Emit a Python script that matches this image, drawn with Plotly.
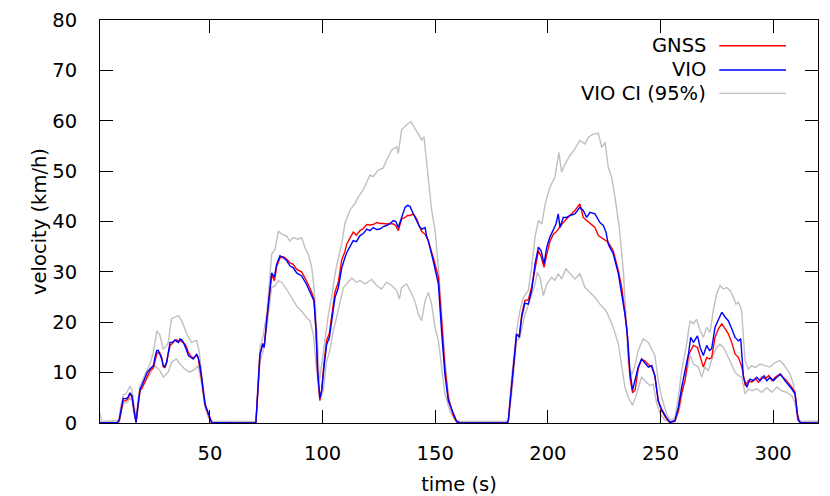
import plotly.graph_objects as go

# time (s) / velocity (km/h)

t_vio = [1.2, 5.0, 9.0, 9.8, 10.8, 11.5, 12.7, 13.6, 14.5, 15.4,
         16.3, 17.2, 18.1, 19.0, 19.7, 21.2, 22.2, 23.4, 24.9, 25.6,
         26.4, 27.1, 27.8, 28.6, 29.3, 30.0, 30.8, 31.5, 32.3, 33.3,
         34.5, 35.2, 36.0, 36.7, 37.5, 38.2, 38.9, 39.7, 40.4, 41.5,
         42.6, 43.4, 44.1, 44.8, 45.6, 46.3, 47.0, 47.8, 48.6, 49.3,
         50.0, 50.8, 60.0, 70.4,
         71.5, 72.2, 73.4, 74.1, 75.2, 76.7, 77.4, 78.6, 79.6, 81.1,
         82.6, 84.1, 85.5, 87.0, 88.5, 90.7, 92.9, 95.2, 96.2, 97.1,
         97.8, 98.8, 99.6, 100.6, 101.8, 103.0, 104.0, 105.5, 107.0, 108.5,
         109.9, 110.7, 111.9, 113.6, 115.0, 116.6, 118.1, 119.6, 121.0, 122.5,
         124.0, 125.5, 127.0, 128.4, 130.0, 131.4, 132.5, 133.6, 135.1, 136.6,
         137.7, 138.8, 140.3, 141.8, 143.0, 144.0, 145.5, 146.2, 146.9, 149.1,
         151.4, 152.9, 154.3, 155.8, 158.0, 159.5, 161.0, 170.0, 181.5,
         182.4, 183.5, 184.6, 186.1, 187.3, 188.4, 189.8, 191.3, 192.8, 194.3,
         195.8, 197.0, 198.3, 199.5, 200.9, 202.4, 203.6, 204.6, 205.4, 206.8,
         208.3, 209.8, 212.0, 214.2, 215.7, 217.2, 218.7, 220.9, 223.1, 224.6,
         225.8, 226.8, 229.0, 231.3, 232.8, 234.2, 235.4, 236.4, 237.6, 238.7,
         240.1, 241.6, 243.1, 244.6, 246.1, 247.5, 249.0, 250.5, 252.7, 254.2,
         256.4, 257.9, 259.4, 260.9, 262.4, 263.4, 264.6, 266.4, 267.6, 269.0,
         270.5, 271.7, 272.7, 274.2, 275.7, 277.2, 278.7, 280.1, 281.6, 283.1,
         284.6, 285.6, 286.8, 288.3, 289.7, 291.2, 292.7, 294.2, 296.0, 297.2,
         298.6, 300.1, 301.6, 303.3, 305.2, 306.7, 308.2, 309.7, 310.4, 311.1,
         312.6, 316.0, 319.9]
v_vio = [0.0, 0.0, 0.1, 0.8, 3.8, 4.9, 4.8, 5.1, 6.0, 5.4,
         2.5, 0.1, 3.8, 6.8, 7.4, 9.1, 10.1, 10.7, 11.4, 13.0,
         14.4, 14.4, 13.7, 12.7, 11.4, 11.2, 12.1, 14.4, 16.0, 16.0,
         16.5, 16.2, 16.0, 16.7, 16.5, 16.0, 15.4, 14.4, 13.4, 13.0,
         12.7, 13.2, 13.7, 13.0, 11.4, 9.1, 6.4, 3.8, 2.8, 1.8,
         0.8, 0.1, 0.0, 0.0,
         8.3, 13.6, 15.6, 15.0, 20.3, 26.9, 29.8, 28.9, 31.5, 33.2,
         32.8, 32.2, 31.2, 30.8, 29.8, 29.2, 27.5, 25.2, 24.2, 18.3,
         10.3, 5.0, 6.4, 11.0, 15.6, 16.9, 20.3, 24.9, 26.9, 30.8,
         32.8, 33.8, 34.8, 36.2, 36.0, 37.2, 37.6, 38.5, 38.2, 38.8,
         38.4, 38.5, 39.0, 39.2, 39.6, 40.2, 40.0, 38.8, 40.8, 42.8,
         43.2, 43.0, 41.5, 40.2, 39.0, 38.5, 38.8, 37.0, 36.2, 32.2,
         27.6, 17.7, 9.7, 4.4, 1.8, 0.3, 0.0, 0.0, 0.0,
         0.3, 5.8, 11.7, 17.7, 17.0, 21.0, 23.8, 23.6, 26.3, 31.6,
         34.9, 34.2, 31.6, 34.9, 36.9, 38.5, 39.5, 41.5, 38.8, 40.8,
         40.8, 41.2, 41.5, 42.8, 42.2, 40.8, 41.8, 41.5, 39.8, 39.2,
         37.9, 35.5, 33.6, 29.6, 25.6, 21.6, 17.0, 10.4, 6.5, 8.4,
         11.1, 12.7, 12.0, 11.1, 11.4, 9.4, 4.4, 2.7, 1.0, 0.1,
         0.5, 3.1, 7.1, 10.4, 13.7, 17.0, 16.0, 17.3, 15.0, 13.4,
         15.4, 14.4, 14.7, 19.0, 20.6, 22.0, 21.0, 20.3, 18.7, 17.0,
         16.3, 16.7, 9.1, 7.1, 8.7, 8.4, 9.1, 8.4, 9.4, 8.4,
         9.1, 8.4, 9.1, 9.7, 8.4, 7.7, 6.8, 5.8, 2.4, 0.5,
         0.0, 0.0, 0.0]

t_gnss = [1.2, 5.0, 9.0, 9.8, 10.8, 11.5, 12.7, 13.6, 14.5, 15.4,
          16.3, 17.2, 18.1, 19.0, 19.7, 21.2, 22.2, 23.4, 24.9, 25.6,
          26.4, 27.1, 27.8, 28.6, 29.3, 30.0, 30.8, 31.5, 32.3, 33.3,
          34.5, 35.2, 36.0, 36.7, 37.5, 38.2, 38.9, 39.7, 40.4, 41.5,
          42.6, 43.4, 44.1, 44.8, 45.6, 46.3, 47.0, 47.8, 48.6, 49.3,
          50.0, 50.8, 60.0, 70.4,
          71.5, 72.2, 73.4, 74.1, 75.2, 76.7, 77.4, 78.6, 79.6, 81.1,
          82.6, 84.1, 85.5, 87.0, 88.5, 90.7, 92.9, 95.2, 96.2, 97.1,
          97.8, 98.8, 99.6, 100.6, 101.8, 103.0, 104.0, 105.5, 107.0, 108.5,
          109.9, 110.7, 111.9, 113.6, 115.0, 116.6, 118.1, 119.6, 121.0, 122.5,
          124.0, 125.5, 127.0, 128.4, 130.0, 131.4, 132.5, 133.6, 135.1, 136.6,
          137.7, 138.8, 140.3, 141.8, 143.0, 144.0, 145.5, 146.9, 149.1, 151.4,
          152.9, 154.3, 155.8, 158.0, 159.5, 161.0, 170.0, 181.5,
          182.4, 183.5, 184.6, 186.1, 187.3, 188.4, 189.8, 191.3, 192.8, 194.3,
          195.8, 197.0, 198.3, 199.5, 200.9, 202.4, 203.6, 204.6, 205.4, 206.8,
          208.3, 209.8, 212.0, 214.2, 215.7, 217.2, 218.7, 220.9, 222.4, 224.6,
          226.8, 229.0, 231.3, 232.8, 234.2, 235.0, 236.4, 237.6, 238.7, 240.1,
          241.6, 243.1, 244.6, 246.1, 247.5, 249.0, 250.5, 252.7, 254.2,
          256.4, 257.9, 259.4, 260.9, 262.4, 263.4, 264.6, 266.4, 267.6, 269.0,
          270.5, 271.7, 272.7, 274.2, 275.7, 277.2, 278.7, 280.1, 281.6, 283.1,
          284.6, 286.1, 287.6, 289.0, 290.5, 292.0, 293.5, 295.0, 296.5, 298.0,
          299.5, 301.0, 303.0, 304.5, 306.0, 308.2, 309.7, 310.7, 311.8, 316.0,
          319.9]
v_gnss = [0.0, 0.0, 0.0, 0.5, 3.2, 4.4, 4.4, 4.8, 5.8, 5.2,
          2.4, 0.1, 3.5, 6.5, 6.8, 8.4, 9.4, 10.4, 11.0, 12.5,
          13.7, 14.0, 13.9, 13.0, 11.1, 11.0, 12.0, 13.8, 15.4, 15.8,
          16.4, 16.5, 16.2, 16.4, 16.2, 15.9, 15.7, 15.0, 14.0, 13.3,
          12.9, 13.2, 13.4, 12.8, 11.0, 8.8, 6.2, 3.6, 2.6, 1.6,
          0.7, 0.0, 0.0, 0.0,
          8.3, 13.6, 15.8, 15.2, 20.5, 27.0, 29.5, 28.2, 31.0, 32.8,
          33.0, 32.5, 31.8, 31.5, 30.5, 30.0, 28.2, 25.9, 24.6, 18.0,
          10.0, 4.5, 6.6, 11.8, 16.4, 17.8, 21.3, 26.0, 28.0, 32.4,
          34.0, 35.5, 36.5, 37.9, 37.3, 38.2, 38.6, 39.4, 39.3, 39.4,
          39.8, 39.6, 39.6, 39.5, 39.6, 39.5, 39.2, 38.2, 40.5, 40.8,
          41.2, 41.2, 41.5, 40.5, 39.0, 38.0, 37.5, 36.2, 32.9, 29.0,
          20.0, 11.0, 5.0, 1.5, 0.2, 0.0, 0.0, 0.0,
          0.3, 5.5, 11.5, 17.5, 17.3, 21.5, 24.3, 24.5, 27.0, 31.0,
          34.2, 33.0, 30.9, 33.5, 36.0, 37.5, 37.9, 38.5, 39.0, 39.8,
          40.5, 41.2, 42.2, 43.5, 40.8, 40.2, 39.6, 38.8, 37.2, 36.5,
          35.9, 34.2, 30.2, 26.9, 22.5, 19.0, 9.1, 6.0, 6.5, 10.8,
          12.7, 12.3, 11.6, 11.1, 9.3, 4.3, 2.4, 0.8, 0.1,
          0.4, 2.4, 6.0, 8.5, 13.4, 14.4, 15.4, 15.0, 13.0, 11.1,
          13.0, 12.7, 13.0, 17.0, 18.7, 19.7, 18.7, 17.7, 16.0, 13.7,
          13.0, 11.1, 7.4, 8.4, 8.1, 8.8, 8.1, 9.1, 8.8, 9.4,
          8.4, 9.1, 9.7, 9.1, 8.4, 7.1, 6.1, 1.8, 0.1, 0.0,
          0.0]

# 95% confidence band of the VIO estimate
t_ci_hi = [1.2, 1.8, 9.5, 10.3, 11.5, 12.7, 13.6, 14.5, 15.4, 16.3,
           17.2, 18.1, 19.0, 21.2, 23.4, 24.9, 26.4, 27.8, 29.3, 30.8,
           31.5, 32.9, 34.5, 36.0, 37.5, 39.7, 41.9, 44.1, 45.3, 46.6,
           48.1, 49.6, 51.0, 60.0, 70.4,
           71.5, 72.2, 73.5, 75.2, 77.4, 78.9, 80.4, 81.9, 84.1, 85.5,
           87.0, 89.2, 90.7, 92.2, 93.7, 95.2, 96.2, 97.4, 98.6, 99.6,
           101.1, 102.6, 104.0, 105.5, 107.0, 108.5, 109.9, 112.2, 114.4, 115.9,
           118.1, 121.0, 122.5, 124.7, 126.9, 128.4, 130.7, 132.9, 133.6, 135.1,
           137.3, 139.2, 141.0, 142.5, 144.0, 145.0, 145.9, 147.0, 148.4, 149.9,
           151.4, 152.9, 154.3, 155.8, 157.2, 159.5, 161.0, 170.0, 181.0,
           182.4, 183.9, 186.1, 187.6, 189.1, 191.3, 192.8, 194.3, 195.8, 197.3,
           198.8, 200.9, 203.1, 204.9, 206.1, 207.6, 209.8, 212.0, 214.2, 216.5,
           217.9, 220.2, 222.4, 223.9, 225.4, 226.8, 228.3, 229.8, 231.7, 233.5,
           234.7, 235.7, 237.2, 238.7, 240.1, 242.3, 244.6, 246.1, 247.5, 249.0,
           250.5, 252.7, 254.2, 256.4,
           257.9, 259.4, 261.6, 263.1, 264.6, 266.0, 267.6, 269.0, 270.5, 272.0,
           273.4, 274.9, 276.4, 277.9, 279.4, 280.8, 282.3, 283.5, 284.6, 286.0,
           287.5, 289.0, 290.5, 291.9, 294.2, 296.4, 298.6, 300.8, 303.0, 304.5,
           306.0, 307.5, 309.0, 310.1, 311.1, 312.6, 316.0, 319.9]
v_ci_hi = [2.0, 0.3, 0.5, 3.0, 5.6, 5.8, 6.5, 7.3, 6.5, 3.5,
           1.0, 4.5, 7.3, 9.7, 11.7, 14.0, 18.3, 17.4, 14.7, 15.3,
           16.0, 20.7, 21.0, 21.3, 20.3, 17.7, 16.0, 16.4, 14.0, 8.4,
           3.4, 1.1, 0.3, 0.3, 0.3,
           9.5, 15.0, 17.0, 21.6, 33.5, 34.5, 38.1, 37.5, 37.1, 36.1,
           36.8, 36.5, 36.8, 34.8, 33.5, 30.8, 26.9, 18.9, 8.3, 11.6,
           17.6, 21.6, 24.9, 29.5, 32.8, 35.5, 39.6, 42.3, 43.6, 44.9,
           46.3, 49.2, 48.9, 50.2, 50.6, 52.2, 54.2, 54.8, 53.5, 58.2,
           59.2, 59.8, 58.5, 57.2, 56.2, 56.8, 52.2, 48.2, 42.3, 38.3,
           30.9, 21.0, 12.4, 5.8, 2.4, 0.5, 0.3, 0.3, 0.3,
           0.5, 9.1, 18.3, 22.3, 24.9, 26.3, 30.9, 36.9, 40.2, 39.5,
           43.5, 46.8, 48.8, 53.7, 49.8, 51.4, 53.1, 54.4, 56.1, 55.4,
           56.7, 57.4, 57.5, 54.7, 55.7, 50.8, 48.8, 44.8, 38.8, 30.2,
           21.0, 12.0, 9.5, 11.5, 14.4, 16.7, 16.0, 14.7, 13.4, 8.4,
           5.1, 1.8, 0.5, 1.1,
           5.1, 10.4, 15.7, 20.3, 19.7, 20.6, 18.3, 17.0, 19.0, 18.0,
           22.3, 25.6, 27.3, 26.6, 26.9, 26.3, 25.0, 23.6, 24.0, 22.3,
           12.4, 10.7, 11.4, 11.0, 11.7, 11.4, 11.1, 12.0, 12.4, 11.7,
           10.7, 9.7, 7.7, 3.8, 0.8, 0.3, 0.4, 0.4]

t_ci_lo = [1.2, 9.8, 10.8, 11.5, 12.7, 13.6, 14.5, 15.4, 16.3, 17.2,
           18.1, 19.0, 21.2, 23.4, 25.6, 27.8, 29.3, 31.5, 33.0, 35.2,
           36.7, 38.9, 41.1, 43.4, 44.8, 46.3, 47.8, 49.3, 51.0, 60.0, 70.4,
           71.5, 72.2, 73.5, 75.2, 77.4, 78.9, 80.4, 81.9, 84.1, 86.3,
           88.5, 90.7, 92.9, 94.4, 95.9, 97.4, 98.8, 100.3, 101.8, 103.2,
           104.7, 106.2, 107.7, 109.2, 110.7, 112.9, 115.1, 116.6, 118.8, 121.8,
           124.0, 126.2, 128.4, 130.7, 132.9, 134.1, 135.1, 137.3, 139.6, 141.1,
           142.5, 144.0, 145.5, 147.0, 148.4, 149.9, 151.4, 152.9, 154.3, 156.5,
           158.8, 161.0, 170.0, 181.0,
           182.4, 184.0, 186.1, 187.6, 189.8, 192.0, 194.3, 195.3, 196.5, 198.0,
           199.5, 201.7, 203.1, 204.6, 206.1, 208.0, 209.8, 212.0, 214.2, 216.5,
           218.7, 220.9, 223.1, 225.8, 226.8, 229.0, 231.3, 232.8, 234.2, 235.7,
           237.6, 239.4, 241.6, 243.1, 245.3, 246.8, 248.2, 249.8, 252.0, 256.4,
           258.6, 260.1, 262.4, 263.1, 264.6, 266.8, 268.3, 269.7, 271.2, 273.4,
           274.9, 276.4, 277.9, 279.4, 280.8, 283.1, 284.6, 286.0, 287.5, 289.0,
           290.5, 292.7, 294.9, 297.2, 299.4, 301.6, 303.8, 306.0, 308.2, 309.7,
           310.7, 311.9, 319.9]
v_ci_lo = [0.0, 0.2, 2.5, 4.0, 4.0, 4.2, 5.0, 4.5, 1.8, 0.0,
           3.0, 6.4, 8.1, 9.7, 11.4, 10.4, 9.1, 10.1, 12.1, 12.7,
           11.7, 10.7, 10.1, 10.7, 11.4, 7.7, 3.1, 1.1, 0.0, 0.0, 0.0,
           7.5, 12.3, 14.0, 18.9, 26.9, 27.2, 28.2, 27.9, 26.5, 24.9,
           23.2, 22.2, 20.9, 20.3, 17.6, 10.3, 4.4, 6.4, 12.3, 14.3,
           18.3, 20.9, 23.6, 26.9, 27.6, 28.8, 27.9, 28.3, 27.6, 28.5,
           27.3, 26.6, 27.9, 27.3, 26.3, 24.6, 26.9, 27.6, 25.6, 24.0,
           21.6, 20.3, 24.3, 25.9, 23.6, 19.0, 16.3, 11.1, 5.8, 2.4,
           0.5, 0.0, 0.0, 0.0,
           0.0, 6.0, 16.3, 17.0, 21.5, 24.3, 27.6, 29.9, 28.9, 25.3,
           27.6, 28.9, 28.3, 29.6, 28.6, 30.6, 29.6, 28.6, 29.6, 26.9,
           25.9, 24.9, 23.6, 22.3, 21.3, 19.0, 15.7, 11.7, 7.1, 5.1,
           3.5, 5.8, 9.1, 8.4, 7.4, 7.7, 4.1, 1.8, 0.5, 0.1,
           3.1, 7.1, 11.5, 13.5, 11.7, 11.1, 9.1, 11.1, 10.4, 13.4,
           15.0, 15.7, 15.0, 13.7, 12.4, 10.1, 9.4, 9.1, 5.8, 6.8,
           6.4, 6.8, 6.1, 7.0, 6.1, 7.1, 6.4, 6.1, 5.4, 4.1,
           1.0, 0.0, 0.0]

legend_names = ['GNSS', 'VIO', 'VIO CI (95%)']
legend_colors = ['#ff0000', '#0000ff', '#c0c0c0']

FONT = 'DejaVu Sans'
FSIZE = 19.5

fig = go.Figure()

# CI band edges first, then GNSS, VIO on top
for tt, vv in [(t_ci_hi, v_ci_hi), (t_ci_lo, v_ci_lo)]:
    fig.add_trace(go.Scatter(x=tt, y=vv, mode='lines', showlegend=False,
                             line=dict(color='#c0c0c0', width=1.4)))
fig.add_trace(go.Scatter(x=t_gnss, y=v_gnss, mode='lines', name='GNSS', showlegend=False,
                         line=dict(color='#ff0000', width=1.4)))
fig.add_trace(go.Scatter(x=t_vio, y=v_vio, mode='lines', name='VIO', showlegend=False,
                         line=dict(color='#0000ff', width=1.4)))

# gnuplot-style key: text right-aligned, sample line to the right
key_y = [0.936, 0.876, 0.818]
for name, col, ky in zip(legend_names, legend_colors, key_y):
    fig.add_annotation(text=name, xref='paper', yref='paper', x=0.847, y=ky,
                       xanchor='right', yanchor='middle', showarrow=False,
                       font=dict(family=FONT, size=FSIZE, color='black'))
    fig.add_shape(type='line', xref='paper', yref='paper', x0=0.8625, x1=0.9554,
                  y0=ky, y1=ky, line=dict(color=col, width=1.4))

axis_style = dict(showline=True, linecolor='black', linewidth=1, mirror='ticks',
                  ticks='inside', ticklen=13, tickcolor='black', tickwidth=1,
                  showgrid=False, zeroline=False, automargin=False,
                  tickfont=dict(family=FONT, size=FSIZE, color='black'))

fig.update_layout(
    width=830, height=496,
    margin=dict(l=100, r=12, t=20, b=73),
    paper_bgcolor='white', plot_bgcolor='white',
    font=dict(family=FONT, size=FSIZE, color='black'),
    xaxis=dict(range=[1.2, 319.9], tick0=0, dtick=50, ticklabelstandoff=13,
               title=dict(text='time (s)', standoff=18, font=dict(family=FONT, size=FSIZE)),
               **axis_style),
    yaxis=dict(range=[0, 80], tick0=0, dtick=10, ticklabelstandoff=18,
               title=dict(text='velocity (km/h)', standoff=0, font=dict(family=FONT, size=FSIZE)),
               **axis_style),
)

# page body has a default 8px margin; drop it so the figure sits at the window origin
fig.write_html("out.html", config={'displayModeBar': False},
               post_script="document.body.style.margin='0px';")
